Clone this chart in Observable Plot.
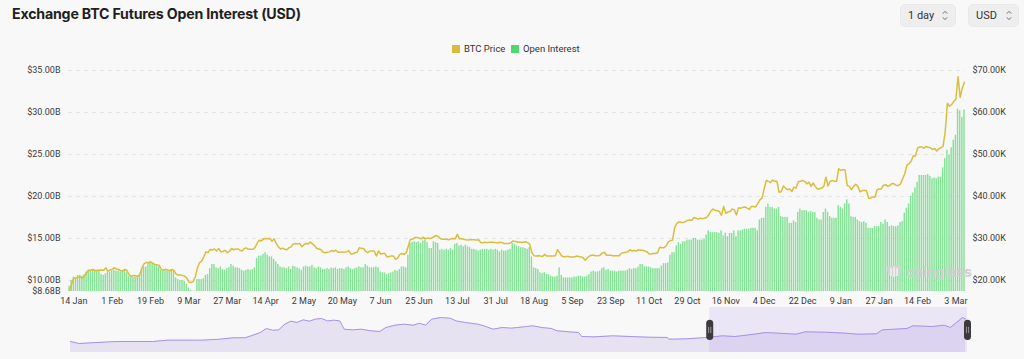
<!DOCTYPE html>
<html>
<head>
<meta charset="utf-8">
<script src="https://cdn.jsdelivr.net/npm/d3@7"></script>
<script src="https://cdn.jsdelivr.net/npm/@observablehq/plot@0.6"></script>
<style>
  html, body { margin:0; padding:0; background:#f8f8f8; }
  #page { position:relative; width:1024px; height:359px; overflow:hidden; background:#f8f8f8; font-family: Roboto, "Noto Sans", sans-serif; }
  .abs { position:absolute; }
  #title { left:12px; top:6px; font-family: Inter, Roboto, sans-serif; font-weight:700; font-size:14.2px; line-height:16px; color:#1f1f1f; letter-spacing:-0.2px; white-space:nowrap; }
  .btn { top:4px; height:23px; border-radius:5px; background:#eeeeee; border:1px solid #e9e9e9; box-sizing:border-box; font-size:11px; color:#333; line-height:21px; }
  .btn span { position:absolute; }
  .btn svg { position:absolute; top:5px; }
  .leg { top:44px; font-size:9.5px; line-height:10px; color:#333; white-space:nowrap; }
  .sw { top:45px; width:8px; height:8px; }
  #wm { left:885px; top:263px; color:#cfcfcf; font-family: Inter, Roboto, sans-serif; font-weight:700; font-size:14px; line-height:18px; }
</style>
</head>
<body>
<div id="page">
  <div id="title" class="abs">Exchange BTC Futures Open Interest (USD)</div>
  <div class="abs btn" style="left:900px;width:56px;"><span style="left:7px;">1 day</span>
    <svg width="6" height="11" style="left:41px"><path d="M0.8 3.6 L3 1.4 L5.2 3.6 M0.8 7.4 L3 9.6 L5.2 7.4" fill="none" stroke="#666" stroke-width="1"/></svg></div>
  <div class="abs btn" style="left:968px;width:51px;"><span style="left:7px;">USD</span>
    <svg width="6" height="11" style="left:37px"><path d="M0.8 3.6 L3 1.4 L5.2 3.6 M0.8 7.4 L3 9.6 L5.2 7.4" fill="none" stroke="#666" stroke-width="1"/></svg></div>
  <div class="abs sw" style="left:452px;background:#d6bd3f;"></div>
  <div class="abs leg" style="left:464px;">BTC Price</div>
  <div class="abs sw" style="left:511px;background:#4fd870;"></div>
  <div class="abs leg" style="left:523px;">Open Interest</div>
  <div id="main" class="abs" style="left:0;top:0;"></div>
  <div id="nav" class="abs" style="left:0;top:305px;"></div>
  <div id="wm" class="abs"><svg width="18" height="16" style="vertical-align:-3px;margin-right:3px"><path d="M2 3 Q9 -1 16 3 L15 10 Q9 16 3 10 Z" fill="#d4d4d4"/><path d="M6 4 L6 12 M9 3 L9 13 M12 4 L12 12" stroke="#f8f8f8" stroke-width="1.2"/></svg>coinglass</div>
</div>
<script>
// ---------- data ----------
const firstDay = "2023-01-12";

// Open interest (billion USD), daily
const oi2023 = [
  9.3,10.0,10.4,10.3,10.6,10.6,10.5,10.7,11.0,11.2,11.2,11.3,11.2,11.1,11.2,10.7,10.6,10.8,11.0,11.0,
  11.1,11.2,11.1,11.1,11.0,11.1,11.2,10.9,10.5,10.4,10.4,10.4,10.4,10.6,11.4,11.6,11.6,12.0,12.2,12.0,11.9,11.8,11.6,11.2,11.1,11.2,11.2,11.1,
  11.2,11.1,10.3,10.1,10.0,10.0,9.9,9.5,9.1,8.8,8.72,8.72,10.1,10.1,10.1,10.2,10.6,10.7,11.4,11.9,11.9,11.5,11.4,11.6,11.3,11.2,11.4,11.5,11.9,11.7,11.5,
  11.5,11.4,11.2,11.1,11.2,11.3,11.2,11.3,11.5,12.6,12.9,12.9,13.1,13.3,13.0,12.8,12.8,12.5,12.2,11.9,11.6,11.5,11.5,11.4,11.6,11.3,11.7,11.6,11.5,11.4,
  11.2,11.6,11.7,11.6,11.6,11.8,11.5,11.4,11.6,11.5,11.3,11.3,11.4,11.3,11.5,11.4,11.5,11.3,11.4,11.4,11.3,11.5,11.6,11.4,11.3,11.4,11.5,11.6,11.5,11.5,11.9,
  11.7,11.5,11.5,11.5,11.6,11.5,11.0,10.9,10.9,10.7,10.8,10.9,11.0,11.2,11.1,11.3,11.6,11.6,11.5,13.0,14.4,14.5,14.6,14.5,14.6,14.4,14.7,14.8,14.5,13.8,
  13.8,14.6,14.5,14.4,13.6,13.7,13.6,13.7,13.6,13.8,13.6,14.3,14.4,14.1,14.2,14.0,14.2,14.0,13.9,13.7,13.7,13.6,13.5,13.6,13.7,13.7,13.7,13.6,13.7,13.6,13.7,
  13.6,13.4,13.6,13.5,13.5,13.6,13.7,14.4,14.3,14.1,14.0,13.9,13.9,13.8,13.7,13.9,12.8,11.5,11.4,11.3,10.9,10.8,10.9,10.7,10.7,10.5,10.4,10.4,10.5,11.5,10.6,
  10.3,10.3,10.3,10.3,10.3,10.4,10.4,10.5,10.5,10.4,10.4,10.5,10.7,11.0,11.1,11.0,11.0,11.1,11.4,11.5,11.2,11.3,11.1,11.1,11.1,11.0,11.1,11.1,11.1,11.1,
  11.2,11.4,11.3,11.4,11.4,11.6,11.9,11.9,11.6,11.6,11.6,11.5,11.4,11.4,11.4,11.4,11.7,12.0,12.0,12.1,13.0,13.3,13.3,14.1,14.5,14.3,14.6,14.6,14.8,14.8,14.8,
  15.0,15.0,14.8,14.8,14.8,14.9,15.4,15.9,15.7,15.7,15.7,15.7,15.6,15.9,15.3,15.6,15.2,15.6,15.6,15.9,15.2,15.9,15.9,16.0,16.1,16.1,16.1,16.2,16.2,16.2,
  15.9,17.2,17.4,17.4,18.7,19.1,18.7,18.7,18.5,18.5,18.7,17.6,17.5,17.5,17.5,16.8,16.8,17.1,16.9,18.1,18.5,18.3,18.3,18.3,18.1,18.2,18.1,18.1,17.4,17.2,17.2
];
const oi2024 = [
  18.1,18.5,18.1,17.6,17.4,17.4,17.4,18.9,18.7,18.5,19.1,19.6,19.1,17.6,17.5,17.5,17.2,17.0,16.9,17.0,16.8,16.2,16.2,16.2,16.4,16.4,16.4,16.9,16.7,17.2,16.9,
  16.4,16.5,16.4,16.4,16.5,16.9,17.0,18.0,18.6,19.1,20.0,20.4,21.0,21.7,22.5,22.5,22.5,22.5,22.6,22.4,22.1,22.2,22.1,22.3,22.3,23.4,24.5,25.5,24.9,
  25.8,26.7,27.3,30.4,30.2,29.4,30.3
];

// BTC price (thousand USD), daily
const price2023 = [
  17.6,19.2,20.6,20.5,20.8,20.8,20.6,21.0,21.8,22.4,22.4,22.6,22.3,22.4,22.4,22.5,22.4,23.0,22.2,22.5,
  22.6,23.0,22.7,22.6,22.3,22.3,22.6,22.3,21.3,21.0,21.2,21.1,21.0,21.4,23.0,24.0,24.3,24.2,24.4,24.1,23.8,23.7,23.6,22.7,22.4,22.7,22.5,22.3,
  22.6,22.4,21.5,21.3,21.3,21.2,21.0,20.6,19.6,19.5,19.7,20.8,23.0,24.2,24.6,25.6,26.8,26.6,27.4,27.2,27.5,27.0,27.6,26.8,26.9,27.2,26.6,26.9,27.6,27.3,27.5,
  27.5,27.2,27.0,27.6,27.7,27.4,27.4,27.4,27.8,28.8,29.6,29.4,29.9,30.0,29.9,30.0,29.3,29.9,28.8,28.0,27.5,27.7,27.4,27.3,27.8,28.0,28.7,28.8,28.7,28.8,
  28.0,28.5,28.8,28.7,29.1,28.7,28.3,27.6,27.5,27.3,26.7,26.6,26.7,26.8,27.1,26.9,27.2,26.7,26.7,26.8,26.7,26.8,27.1,26.3,26.3,26.6,26.7,27.8,27.6,27.6,26.9,
  26.6,27.0,27.0,27.0,25.8,27.0,26.3,26.4,26.4,25.6,25.7,25.8,25.8,25.0,25.3,26.2,26.4,26.2,26.6,28.2,29.8,29.8,30.2,30.2,30.1,29.9,30.3,29.9,30.1,30.0,
  30.1,30.4,30.7,30.5,30.0,29.8,29.8,29.8,29.7,29.9,30.0,29.9,31.0,29.9,29.9,29.8,29.7,29.6,29.7,29.7,29.7,29.6,29.7,29.0,29.0,29.1,29.0,29.1,29.1,29.1,29.0,
  28.9,29.1,29.0,28.8,28.8,28.8,28.9,29.4,29.3,29.2,29.1,29.1,29.1,29.2,29.0,28.6,26.6,25.9,25.8,25.9,25.8,25.7,26.2,25.8,25.8,25.8,25.8,25.9,27.3,26.6,25.8,
  25.6,25.7,25.7,25.6,25.6,25.6,25.8,25.7,25.6,25.4,24.8,25.4,25.8,26.0,26.0,25.9,25.9,26.0,26.5,26.7,26.0,26.0,26.0,25.9,25.9,25.9,25.9,26.5,26.6,26.7,
  26.8,27.3,27.0,27.1,27.0,27.3,27.2,27.2,27.0,26.8,26.3,26.3,26.4,26.4,26.6,27.9,27.8,27.8,28.2,29.2,29.5,29.6,32.6,33.6,34.0,33.8,33.8,34.0,34.3,34.4,34.3,
  35.0,34.8,34.6,34.8,34.7,34.8,35.0,35.6,36.5,37.0,36.7,36.6,36.4,35.5,37.6,36.0,36.3,36.4,37.0,36.8,35.6,37.3,37.2,37.4,37.5,37.2,36.9,37.6,37.6,37.5,
  38.3,39.2,39.6,41.8,43.8,43.6,43.3,43.9,43.6,43.6,41.0,41.1,42.5,42.0,41.6,41.8,41.2,42.2,42.0,43.5,43.6,43.8,43.6,43.0,43.4,42.4,43.2,42.4,41.8,41.8,42.0
];
const price2024 = [
  42.4,44.6,42.5,43.6,43.8,43.6,43.6,46.6,46.2,46.4,46.3,42.6,42.4,41.6,42.4,42.9,42.4,41.1,41.4,41.4,41.4,39.6,39.6,39.9,39.8,41.6,41.8,41.8,42.7,42.8,42.4,
  42.6,43.1,43.0,42.6,42.6,43.0,44.2,45.4,47.4,47.8,48.4,49.7,49.6,51.5,51.8,51.8,51.5,51.9,51.7,51.6,51.2,51.4,50.8,51.4,51.6,52.0,55.5,62.2,61.5,
  61.9,62.6,63.2,68.5,63.6,65.8,67.2
];

// axis ticks
const leftTicks = [8.68, 10, 15, 20, 25, 30, 35];          // billion USD
const rightTicks = [20, 30, 40, 50, 60, 70];               // thousand USD
const xTickLabels = ["2023-01-14","2023-02-01","2023-02-19","2023-03-09","2023-03-27","2023-04-14",
  "2023-05-02","2023-05-20","2023-06-07","2023-06-25","2023-07-13","2023-07-31","2023-08-18",
  "2023-09-05","2023-09-23","2023-10-11","2023-10-29","2023-11-16","2023-12-04","2023-12-22",
  "2024-01-09","2024-01-27","2024-02-14","2024-03-03"];

// navigator (full history thumbnail), billion USD
const navDates = ["2020-03-04","2020-03-18","2020-04-07","2020-05-17","2020-07-16","2020-08-10","2020-10-04",
  "2020-11-03","2020-11-24","2020-12-14","2020-12-24","2021-01-08","2021-01-18","2021-01-28","2021-02-07",
  "2021-02-17","2021-02-27","2021-03-09","2021-03-19","2021-03-29","2021-04-08","2021-04-18","2021-04-28",
  "2021-05-08","2021-05-18","2021-05-25","2021-06-07","2021-06-22","2021-07-07","2021-07-22","2021-08-01",
  "2021-08-16","2021-08-31","2021-09-15","2021-09-25","2021-10-05","2021-10-15","2021-10-30","2021-11-14",
  "2021-11-24","2021-12-09","2021-12-29","2022-01-08","2022-01-23","2022-02-07","2022-02-22","2022-03-04",
  "2022-03-19","2022-03-29","2022-04-13","2022-04-28","2022-05-08","2022-05-28","2022-06-12","2022-06-17",
  "2022-07-07","2022-08-06","2022-09-05","2022-10-05","2022-11-04","2022-11-06","2022-12-04","2023-01-08",
  "2023-02-02","2023-02-22","2023-03-14","2023-04-13","2023-05-03","2023-06-02","2023-06-17","2023-07-22",
  "2023-08-21","2023-09-11","2023-10-11","2023-10-21","2023-11-10","2023-11-30","2023-12-10","2024-01-10",
  "2024-01-30","2024-02-09","2024-02-19","2024-02-29","2024-03-05"];
const navValues = [9.4,7.7,8.3,9.4,9.4,10.6,10.6,
  11.4,12.6,12.6,14.3,17.1,20.6,19.1,19.4,
  24.3,26.9,25.7,28.0,26.9,28.6,29.1,27.1,
  27.7,27.1,20.0,19.4,20.0,18.6,18.0,21.4,
  23.4,24.3,23.4,25.1,23.4,28.6,30.0,29.4,
  27.1,25.7,24.3,22.9,20.0,21.4,20.9,21.4,
  22.3,22.9,21.4,20.6,18.6,17.7,17.1,13.7,
  13.4,14.3,13.7,13.1,12.9,11.4,11.7,12.9,
  14.3,13.7,14.9,17.1,16.6,15.7,17.7,17.4,
  16.6,15.7,16.0,19.4,20.0,20.6,22.9,22.3,
  23.4,21.4,25.7,30.0,28.6];

// ---------- build ----------
const oi = oi2023.concat(oi2024);
const price = price2023.concat(price2024);
const start = new Date(firstDay + "T00:00:00Z");
const days = d3.utcDay.range(start, d3.utcDay.offset(start, oi.length));
const data = days.map((d, i) => ({date: d, mid: d3.utcHour.offset(d, 12), oi: oi[i], price: price[i]}));
const X0 = start, X1 = d3.utcDay.offset(start, oi.length);
const xTicks = xTickLabels.map(s => d3.utcHour.offset(new Date(s + "T00:00:00Z"), 12));
const fmtDate = d3.utcFormat("%-d %b");

const main = Plot.plot({
  width: 1024, height: 310,
  marginLeft: 68, marginRight: 59, marginTop: 70, marginBottom: 19,
  style: {background: "transparent", fontFamily: "Roboto, sans-serif", fontSize: "9px", color: "#3a3a3a", overflow: "visible"},
  x: {type: "utc", domain: [X0, X1]},
  y: {domain: [leftTicks[0], leftTicks[leftTicks.length - 1]]},
  marks: [
    Plot.gridY(leftTicks.slice(1), {stroke: "#e4e4e4", strokeOpacity: 1, strokeDasharray: "4,4"}),
    Plot.rectY(data, {x: "date", interval: "day", y: "oi", fill: "#84e196", insetLeft: 0.35, insetRight: 0.35, clip: true}),
    Plot.lineY(data, {x: "mid", y: d => d.price / 2, stroke: "#d9be3c", strokeWidth: 1.5, clip: true}),
    Plot.axisY(leftTicks, {anchor: "left", tickSize: 0, tickPadding: 8, label: null, tickFormat: d => `$${d.toFixed(2)}B`}),
    Plot.axisY(rightTicks.map(p => p / 2), {anchor: "right", tickSize: 0, tickPadding: 7, label: null, tickFormat: d => `$${(d * 2).toFixed(2)}K`}),
    Plot.axisX(xTicks, {anchor: "bottom", tickSize: 0, tickPadding: 6, label: null, tickFormat: fmtDate})
  ]
});
document.getElementById("main").appendChild(main);

const navData = navDates.map((s, i) => ({date: new Date(s + "T00:00:00Z"), v: navValues[i]}));
const navTop = 40.3;
const nav = Plot.plot({
  width: 1024, height: 47,
  marginLeft: 70, marginRight: 57, marginTop: 0, marginBottom: 0,
  style: {background: "transparent", overflow: "visible"},
  x: {type: "utc", domain: [navData[0].date, X1], axis: null},
  y: {domain: [0, navTop], axis: null},
  marks: [
    Plot.areaY(navData, {x: "date", y: "v", fill: "#e6e2f2"}),
    Plot.rect([0], {x1: X0, x2: X1, y1: 0, y2: 38.6, fill: "#8c6ee6", fillOpacity: 0.12}),
    Plot.lineY(navData, {x: "date", y: "v", stroke: "#a792e8", strokeWidth: 1}),
    Plot.ruleX([X0, X1], {y1: 13.2, y2: 24.6, stroke: "#3b3b3b", strokeWidth: 7, strokeLinecap: "round"}),
    Plot.ruleX([X0, X1], {y1: 16.2, y2: 21.6, stroke: "#bdbdbd", strokeWidth: 0.7, dx: -1.1}),
    Plot.ruleX([X0, X1], {y1: 16.2, y2: 21.6, stroke: "#bdbdbd", strokeWidth: 0.7, dx: 1.1})
  ]
});
document.getElementById("nav").appendChild(nav);
</script>
</body>
</html>
